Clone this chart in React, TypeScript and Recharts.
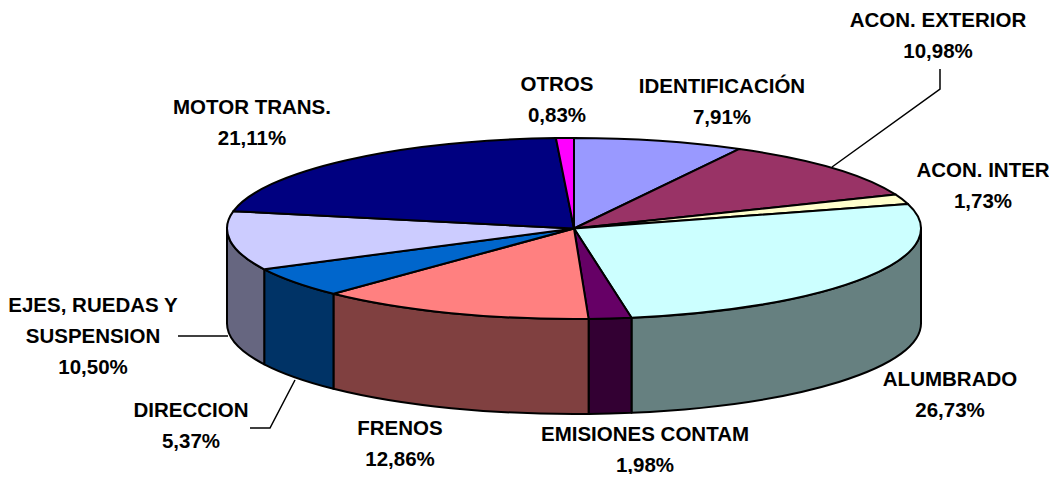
import React from 'react';
import { PieChart, Pie } from 'recharts';

const categories = [
  'IDENTIFICACIÓN',
  'ACON. EXTERIOR',
  'ACON. INTER',
  'ALUMBRADO',
  'EMISIONES CONTAM',
  'FRENOS',
  'DIRECCION',
  'EJES, RUEDAS Y|SUSPENSION',
  'MOTOR TRANS.',
  'OTROS',
];
const shares = [7.91, 10.98, 1.73, 26.73, 1.98, 12.86, 5.37, 10.5, 21.11, 0.83];
const topColors = ['#9999ff', '#993366', '#ffffcc', '#ccffff', '#660066', '#ff8080', '#0066cc', '#ccccff', '#000080', '#ff00ff'];
const wallColors = ['#4d4d80', '#4d1a33', '#808066', '#668080', '#330033', '#804040', '#003366', '#666680', '#000040', '#800080'];

// first-line baseline of each label, in the same order as categories
const labelX = [722, 938, 983, 950, 645, 400, 191, 93, 252, 557];
const labelY = [93, 27, 177, 386, 441, 435, 417, 312, 114, 91];

const leaders: Record<number, string> = {
  1: '940,69 940,89 832,167',
  6: '250,428 270,428 295,380',
  7: '178,336 228,336',
};

const CX = 574;
const CY = 228.5;
const RX = 347;
const SQUASH = 90.5 / 347;
const DEPTH = 95;

const topData = categories.map((name, i) => ({ name, value: shares[i], fill: topColors[i] }));
const wallData = categories.map((name, i) => ({ name, value: shares[i], fill: wallColors[i] }));

const point = (cx: number, cy: number, r: number, deg: number) => {
  const a = (deg * Math.PI) / 180;
  return [cx + r * Math.cos(a), cy - r * SQUASH * Math.sin(a)];
};

const TopSlice = (props: any) => {
  const { cx, cy, outerRadius: r, startAngle, endAngle, fill } = props;
  const [x1, y1] = point(cx, cy, r, startAngle);
  const [x2, y2] = point(cx, cy, r, endAngle);
  const large = Math.abs(startAngle - endAngle) > 180 ? 1 : 0;
  const d = `M${cx},${cy} L${x1},${y1} A${r},${r * SQUASH} 0 ${large} 1 ${x2},${y2} Z`;
  return <path d={d} fill={fill} stroke="#000" strokeWidth={2} strokeLinejoin="round" />;
};

// only the part of a slice's rim in the front half of the ellipse is visible
const WallSlice = (props: any) => {
  const { cx, cy, outerRadius: r, startAngle, endAngle, fill } = props;
  const from = Math.min(startAngle, 0);
  const to = Math.max(endAngle, -180);
  if (from <= to) return <g />;
  const [x1, y1] = point(cx, cy, r, from);
  const [x2, y2] = point(cx, cy, r, to);
  const ry = r * SQUASH;
  const d = `M${x1},${y1} A${r},${ry} 0 0 1 ${x2},${y2} L${x2},${y2 + DEPTH} A${r},${ry} 0 0 0 ${x1},${y1 + DEPTH} Z`;
  return <path d={d} fill={fill} stroke="#000" strokeWidth={2} strokeLinejoin="round" />;
};

const renderLabel = (props: any) => {
  const i = props.index;
  const lines = [...categories[i].split('|'), `${shares[i].toFixed(2).replace('.', ',')}%`];
  return (
    <g key={i}>
      {leaders[i] && <polyline points={leaders[i]} fill="none" stroke="#000" strokeWidth={1.5} />}
      <text
        textAnchor="middle"
        fontFamily="Liberation Sans"
        fontWeight="bold"
        fontSize={20.5}
        fill="#000"
      >
        {lines.map((line, n) => (
          <tspan key={n} x={labelX[i]} y={labelY[i] + n * 31}>
            {line}
          </tspan>
        ))}
      </text>
    </g>
  );
};

const App = () => {
  return (
    <div style={{ margin: -8, width: 1057, height: 482, background: '#fff' }}>
      <PieChart width={1057} height={482} margin={{ top: 0, right: 0, bottom: 0, left: 0 }}>
        <Pie
          data={wallData}
          dataKey="value"
          nameKey="name"
          cx={CX}
          cy={CY}
          innerRadius={0}
          outerRadius={RX}
          startAngle={90}
          endAngle={-270}
          shape={WallSlice}
          label={false}
          labelLine={false}
          isAnimationActive={false}
        />
        <Pie
          data={topData}
          dataKey="value"
          nameKey="name"
          cx={CX}
          cy={CY}
          innerRadius={0}
          outerRadius={RX}
          startAngle={90}
          endAngle={-270}
          shape={TopSlice}
          label={renderLabel}
          labelLine={false}
          isAnimationActive={false}
        />
      </PieChart>
    </div>
  );
};

export default App;
